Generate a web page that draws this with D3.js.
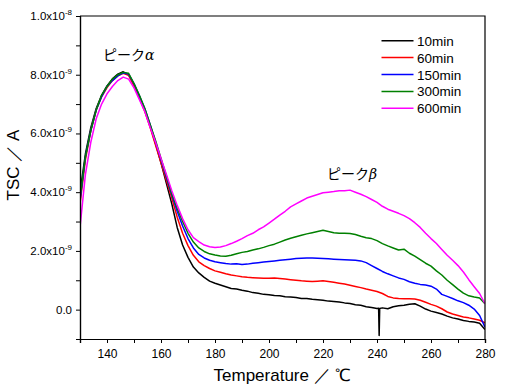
<!DOCTYPE html>
<html>
<head>
<meta charset="utf-8">
<script src="https://cdn.jsdelivr.net/npm/d3@7"></script>
<style>
  html, body { margin: 0; padding: 0; background: #fff; }
  svg { display: block; font-family: "Liberation Sans", Arial, sans-serif; }
</style>
</head>
<body>
<svg id="chart" width="510" height="387"></svg>
<script>
// temperature grid (°C) shared by every run
const temps = [
  130, 132, 134, 136, 138, 140, 142, 144, 146, 148,
  150, 152, 154, 156, 158, 160, 162, 164, 166, 168,
  170, 172, 174, 176, 178, 180, 182, 184, 186, 188,
  190, 192, 194, 196, 198, 200, 202, 204, 206, 208,
  210, 212, 214, 216, 218, 220, 222, 224, 226, 228,
  230, 232, 234, 236, 238, 240, 242, 244, 246, 248,
  250, 252, 254, 256, 258, 260, 262, 264, 266, 268,
  270, 272, 274, 276, 278, 280,
];

// current, in units of 1e-9 A
const tsc10 = [
  4.0, 5.3, 6.2, 6.85, 7.3, 7.62, 7.86, 8.02, 8.1, 8.0,
  7.66, 7.26, 6.8, 6.25, 5.65, 5.0, 4.3, 3.6, 2.8, 2.2,
  1.78, 1.45, 1.25, 1.1, 0.97, 0.9, 0.84, 0.78, 0.72, 0.7,
  0.66, 0.63, 0.58, 0.56, 0.52, 0.51, 0.48, 0.47, 0.44, 0.43,
  0.41, 0.38, 0.38, 0.35, 0.34, 0.32, 0.29, 0.28, 0.26, 0.23,
  0.21, 0.17, 0.15, 0.1, 0.07, 0.04, 0.06, 0.03, 0.1, 0.13,
  0.15, 0.18, 0.2, 0.12, 0.02, -0.05, -0.1, -0.15, -0.22, -0.28,
  -0.32, -0.37, -0.4, -0.42, -0.46, -0.68,
];
// the narrow downward glitch in the 10min run near 241 °C
const spike10 = [ [ 240.6, 0.05 ], [ 240.8, -0.88 ], [ 241.0, 0.04 ] ];

const tsc60 = [
  3.6, 5.1, 6.1, 6.8, 7.25, 7.56, 7.8, 7.96, 8.05, 7.98,
  7.62, 7.2, 6.75, 6.2, 5.6, 5.0, 4.4, 3.8, 3.15, 2.6,
  2.18, 1.85, 1.63, 1.5, 1.4, 1.32, 1.27, 1.22, 1.18, 1.15,
  1.12, 1.1, 1.09, 1.08, 1.07, 1.07, 1.08, 1.06, 1.04, 1.02,
  1.0, 0.98, 0.97, 0.96, 0.97, 0.98, 0.96, 0.93, 0.9, 0.87,
  0.83, 0.79, 0.75, 0.7, 0.66, 0.62, 0.55, 0.45, 0.4, 0.38,
  0.37, 0.37, 0.36, 0.32, 0.25, 0.18, 0.12, 0.03, -0.08, -0.15,
  -0.2, -0.25, -0.28, -0.32, -0.36, -0.45,
];

const tsc150 = [
  3.7, 5.2, 6.1, 6.8, 7.25, 7.6, 7.8, 7.96, 8.06, 8.02,
  7.7, 7.28, 6.85, 6.3, 5.7, 5.1, 4.5, 3.9, 3.35, 2.85,
  2.42, 2.1, 1.88, 1.76, 1.68, 1.63, 1.6, 1.57, 1.55, 1.56,
  1.54, 1.55, 1.58, 1.6, 1.62, 1.64, 1.66, 1.68, 1.7, 1.72,
  1.74, 1.75, 1.76, 1.76, 1.75, 1.74, 1.73, 1.72, 1.71, 1.7,
  1.69, 1.68, 1.66, 1.6, 1.5, 1.4, 1.3, 1.22, 1.15, 1.08,
  1.03, 0.95, 0.9, 0.86, 0.84, 0.8, 0.7, 0.52, 0.45, 0.38,
  0.3, 0.24, 0.15, 0.02, -0.2, -0.6,
];

const tsc300 = [
  3.8, 5.2, 6.1, 6.8, 7.3, 7.6, 7.85, 8.0, 8.08, 8.05,
  7.7, 7.3, 6.85, 6.3, 5.75, 5.15, 4.55, 3.95, 3.45, 3.0,
  2.6, 2.3, 2.1, 1.98, 1.9, 1.86, 1.83, 1.82, 1.85, 1.9,
  1.95, 1.98, 2.03, 2.07, 2.12, 2.18, 2.23, 2.3, 2.37, 2.43,
  2.48, 2.53, 2.58, 2.62, 2.66, 2.7, 2.66, 2.62, 2.6, 2.6,
  2.59, 2.56, 2.5, 2.45, 2.42, 2.35, 2.25, 2.17, 2.1, 2.03,
  2.06, 1.92, 1.82, 1.7, 1.58, 1.48, 1.32, 1.18, 1.0, 0.85,
  0.7, 0.56, 0.47, 0.43, 0.4, 0.2,
];

const tsc600 = [
  2.8, 4.6, 5.7, 6.5, 7.0, 7.35, 7.6, 7.8, 7.92, 7.85,
  7.55, 7.15, 6.75, 6.2, 5.7, 5.15, 4.6, 4.05, 3.55, 3.1,
  2.72, 2.45, 2.32, 2.2, 2.14, 2.12, 2.13, 2.18, 2.25, 2.33,
  2.42, 2.52, 2.6, 2.72, 2.82, 2.95, 3.08, 3.22, 3.35, 3.5,
  3.6, 3.7, 3.8, 3.86, 3.92, 3.98, 4.0, 4.02, 4.05, 4.05,
  4.07, 4.0, 3.93, 3.85, 3.75, 3.65, 3.52, 3.42, 3.35, 3.28,
  3.2, 3.1, 2.96, 2.8, 2.6, 2.42, 2.25, 2.05, 1.85, 1.68,
  1.5, 1.28, 1.02, 0.78, 0.55, 0.2,
];

const seriesNames = [ "10min", "60min", "150min", "300min", "600min" ];
const seriesColors = [ "#000000", "#ff0000", "#0000ff", "#008000", "#ff00ff" ];
const yTickValues = [ 0, 2, 4, 6, 8, 10 ];   // x 1e-9
const xTickValues = [ 140, 160, 180, 200, 220, 240, 260, 280 ];

const UNIT = 1e-9;
const WIDTH = 510;
const HEIGHT = 387;
const MARGINS = { top: 16, right: 25, bottom: 48, left: 80 };

const svg = d3.select( "#chart" );

const x = d3.scaleLinear()
  .domain( [ 130, 280 ] )
  .range( [ MARGINS.left, WIDTH - MARGINS.right ] );
const y = d3.scaleLinear()
  .domain( [ -1e-9, 1e-8 ] )
  .range( [ HEIGHT - MARGINS.bottom, MARGINS.top ] );

// build the series
const toPoints = vals => temps.map( ( t, i ) => [ t, vals[i] ] );
const series = [ tsc10, tsc60, tsc150, tsc300, tsc600 ].map( toPoints );
series[0] = series[0].concat( spike10 ).sort( ( a, b ) => a[0] - b[0] );

const plot = svg.append( "g" );
plot.append( "clipPath" ).attr( "id", "clip" )
  .append( "rect" )
  .attr( "x", MARGINS.left ).attr( "y", MARGINS.top )
  .attr( "width", x.range()[1] - x.range()[0] )
  .attr( "height", y.range()[0] - y.range()[1] );

const line = d3.line()
  .x( d => x( d[0] ) )
  .y( d => y( d[1] * UNIT ) );

series.forEach( ( s, i ) => {
  plot.append( "path" )
    .attr( "clip-path", "url(#clip)" )
    .attr( "d", line( s ) )
    .attr( "fill", "none" )
    .attr( "stroke", seriesColors[i] )
    .attr( "stroke-width", 1.5 )
    .attr( "stroke-linejoin", "round" );
} );

// axes
const yAxis = d3.axisLeft( y )
  .tickValues( yTickValues.map( v => v * UNIT ) )
  .tickSize( 4 ).tickPadding( 3 ).tickFormat( "" );
svg.append( "g" )
  .attr( "transform", `translate(${MARGINS.left},0)` )
  .call( yAxis );

const yMinor = d3.axisLeft( y )
  .tickValues( [ -1, 1, 3, 5, 7, 9 ].map( v => v * UNIT ) )
  .tickSize( 4 ).tickFormat( "" );
svg.append( "g" )
  .attr( "transform", `translate(${MARGINS.left},0)` )
  .call( yMinor );

const xAxis = d3.axisBottom( x )
  .tickValues( xTickValues )
  .tickSize( 4 ).tickPadding( 6 );
const gx = svg.append( "g" )
  .attr( "transform", `translate(0,${HEIGHT - MARGINS.bottom})` )
  .call( xAxis );

const xMinor = d3.axisBottom( x )
  .tickValues( [ 130, 150, 170, 190, 210, 230, 250, 270 ] )
  .tickSize( 4 ).tickFormat( "" );
svg.append( "g" )
  .attr( "transform", `translate(0,${HEIGHT - MARGINS.bottom})` )
  .call( xMinor );

svg.selectAll( ".domain" ).attr( "stroke", "#000" ).attr( "stroke-width", 1.2 );
svg.selectAll( ".tick line" ).attr( "stroke", "#000" ).attr( "stroke-width", 1 );

gx.selectAll( ".tick text" )
  .attr( "font-size", 12 )
  .attr( "fill", "#000" );

// y tick labels with exponent
yTickValues.forEach( v => {
  const t = svg.append( "text" )
    .attr( "x", MARGINS.left - 8 )
    .attr( "y", y( v * UNIT ) + 4 )
    .attr( "text-anchor", "end" )
    .attr( "font-size", 11.5 )
    .attr( "fill", "#000" );
  if ( v === 0 ) {
    t.text( "0.0" );
    return;
  }
  const exp = v >= 10 ? -8 : -9;
  const mant = v >= 10 ? v / 10 : v;
  t.append( "tspan" ).text( `${mant.toFixed( 1 )}x10` );
  t.append( "tspan" )
    .attr( "dy", -5 )
    .attr( "font-size", 8 )
    .text( `${exp}` );
} );

// frame (top and right)
svg.append( "path" )
  .attr( "d", `M${x.range()[0]},${y.range()[1]}H${x.range()[1]}V${y.range()[0]}` )
  .attr( "fill", "none" )
  .attr( "stroke", "#000" )
  .attr( "stroke-width", 1.2 );

// axis titles
svg.append( "text" )
  .attr( "x", ( x.range()[0] + x.range()[1] ) / 2 )
  .attr( "y", 381 )
  .attr( "text-anchor", "middle" )
  .attr( "font-size", 17 )
  .text( "Temperature ／ ℃" );

svg.append( "text" )
  .attr( "transform", "translate(19,165) rotate(-90)" )
  .attr( "text-anchor", "middle" )
  .attr( "font-size", 17 )
  .text( "TSC ／ A" );

// peak annotations
const peakLabel = ( tx, ty, greek ) => {
  const t = svg.append( "text" )
    .attr( "x", tx ).attr( "y", ty )
    .attr( "font-size", 14 )
    .attr( "font-family", "'Noto Sans CJK JP', sans-serif" );
  t.append( "tspan" ).text( "ピーク" );
  t.append( "tspan" )
    .attr( "font-style", "italic" )
    .attr( "font-family", "'DejaVu Serif', serif" )
    .text( greek );
};
peakLabel( 103, 60, "α" );
peakLabel( 327, 179, "β" );

// legend
const legend = svg.append( "g" );
seriesNames.forEach( ( name, i ) => {
  const ly = 40.7 + i * 16.9;
  legend.append( "line" )
    .attr( "x1", 381.5 ).attr( "x2", 413.5 )
    .attr( "y1", ly ).attr( "y2", ly )
    .attr( "stroke", seriesColors[i] )
    .attr( "stroke-width", 1.5 );
  legend.append( "text" )
    .attr( "x", 417 ).attr( "y", ly + 5 )
    .attr( "font-size", 13.5 )
    .text( name );
} );
</script>
</body>
</html>
